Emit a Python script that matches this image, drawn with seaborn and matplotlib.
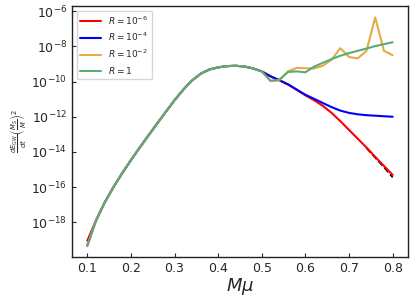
import numpy as np
import pandas as pd
import matplotlib
matplotlib.use("Agg")
import matplotlib.pyplot as plt
import seaborn as sns

# M*mu grid
mmu = [0.10, 0.12, 0.14, 0.16, 0.18, 0.20, 0.22, 0.24, 0.26, 0.28,
       0.30, 0.32, 0.34, 0.36, 0.38, 0.40, 0.42, 0.44, 0.46, 0.48,
       0.50, 0.52, 0.54, 0.56, 0.58, 0.60, 0.62, 0.64, 0.66, 0.68,
       0.70, 0.72, 0.74, 0.76, 0.78, 0.80]

# shared part of all curves (log10 values), 0.12 .. 0.50
common = [-17.90, -16.87, -16.00, -15.21, -14.47, -13.76, -13.07, -12.39, -11.72,
          -11.06, -10.46, -9.94, -9.55, -9.31, -9.19, -9.12, -9.10, -9.14, -9.25,
          -9.42]

# log10 of dE/dt (M_S/M)^2
log_r6 = [-19.05] + common + [-9.70, -9.92, -10.17, -10.47, -10.78, -11.06, -11.38,
                              -11.78, -12.25, -12.75, -13.25, -13.75, -14.28, -14.80, -15.31]
log_r4 = [-19.33] + common + [-9.70, -9.92, -10.15, -10.45, -10.75, -10.98, -11.22,
                              -11.45, -11.65, -11.78, -11.86, -11.91, -11.94, -11.97, -12.00]
log_r2 = [-19.33] + common + [-9.97, -9.93, -9.42, -9.22, -9.24, -9.25, -9.10,
                              -8.75, -8.10, -8.60, -8.68, -8.25, -6.35, -8.25, -8.50]
log_r0 = [-19.33] + common + [-9.95, -9.90, -9.45, -9.42, -9.47, -9.15, -8.93,
                              -8.72, -8.53, -8.38, -8.25, -8.12, -7.98, -7.87, -7.76]

# black dashed tail just under the red curve
fit_x = [0.74, 0.76, 0.78, 0.80]
fit_log = [-13.78, -14.33, -14.87, -15.45]

labels = [r"$R=10^{-6}$", r"$R=10^{-4}$", r"$R=10^{-2}$", r"$R=1$"]
colors = ["red", "blue", "#e5ab45", "#5aab78"]

frames = []
for lab, vals in zip(labels, [log_r6, log_r4, log_r2, log_r0]):
    frames.append(pd.DataFrame({"mmu": mmu, "val": 10.0 ** np.array(vals), "R": lab}))
df = pd.concat(frames, ignore_index=True)

sns.set_style("ticks")
plt.rcParams["font.family"] = ["DejaVu Sans"]

fig = plt.figure(figsize=(4.15, 3.01), dpi=100)
ax = fig.add_axes([0.1735, 0.146, 0.8095, 0.834])

ax.plot(fit_x, 10.0 ** np.array(fit_log), color="black", linestyle="--", linewidth=1.2, zorder=1)
sns.lineplot(data=df, x="mmu", y="val", hue="R", hue_order=labels,
             palette=dict(zip(labels, colors)), linewidth=1.5, ax=ax, zorder=2)

ax.set_yscale("log")
ax.set_yticks([1e-18, 1e-16, 1e-14, 1e-12, 1e-10, 1e-8, 1e-6])
ax.minorticks_off()
ax.tick_params(direction="in", labelsize=9, length=3)
for s in ax.spines.values():
    s.set_color("#222222")
    s.set_linewidth(1.0)

ax.set_xlabel(r"$M\mu$", fontsize=13, labelpad=1)
ax.set_ylabel(r"$\frac{dE_{\rm GW}}{dt}\left(\frac{M_S}{M}\right)^2$", fontsize=7, labelpad=2)
ax.legend(loc="upper left", fontsize=6.5, title=None, handlelength=2.3)

fig.savefig("out.png", dpi=100)
